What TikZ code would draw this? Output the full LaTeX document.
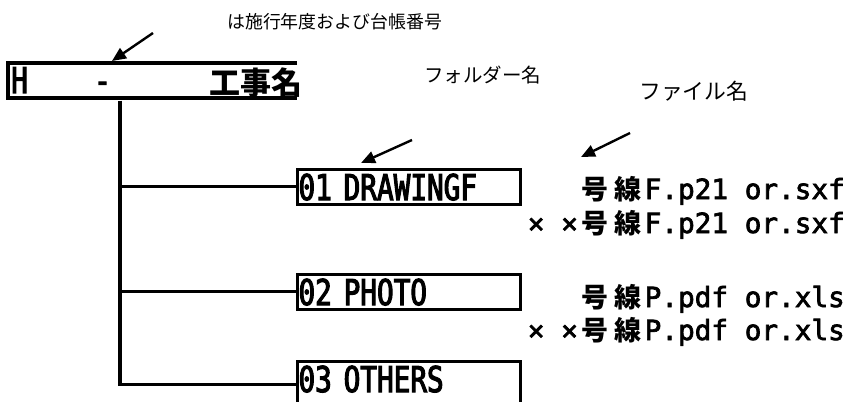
\documentclass[tikz,border=0pt]{standalone}
\usepackage{fontspec}
\usetikzlibrary{arrows.meta}
\newfontfamily\jp{Noto Sans CJK JP}
\newfontfamily\boxfont[FakeStretch=0.78, FakeBold=3]{DejaVu Sans Mono}
\newfontfamily\monofont[FakeBold=2.5]{DejaVu Sans Mono}
\newcommand{\kj}[1]{\makebox[33.4pt][c]{\jp\bfseries\fontsize{27}{27}\selectfont #1}}
\newcommand{\bxf}{\boxfont\fontsize{35.5}{35.5}\selectfont}
\begin{document}
\begin{tikzpicture}[x=1pt,y=-1pt,
  lbl/.style={inner sep=0pt},
  note/.style={inner sep=0pt, anchor=west},
  arr/.style={line width=2.4pt, -{Triangle[length=14pt,width=12pt]}},
  conn/.style={line width=3.2pt},
  folder/.style={draw, line width=3pt, inner xsep=1pt, inner ysep=0pt,
     text width=221pt, align=left, text height=31pt,
     anchor=base west, font=\bxf},
  fname/.style={inner sep=0pt, anchor=base east, font=\monofont\fontsize{27.7}{28}\selectfont}]
\useasboundingbox (0,0) rectangle (850,401);
% header
\draw[conn] (297,63) -- (8,63) -- (8,98) -- (297,98);
\node[lbl, anchor=base west, font=\bxf] (hH) at (11,93) {H};
\node[lbl, anchor=base west, font=\bxf] (hdash) at (94,93) {-};
\node[lbl, anchor=base west, font=\jp\bfseries\fontsize{31}{31}\selectfont] (hname) at (209,95) {工事名};
% notes and arrows
\node[note] (n1) at (227,22) {\resizebox{215pt}{!}{\jp は施行年度および台帳番号}};
\node[note] (n2) at (424,75) {\resizebox{117pt}{!}{\jp フォルダー名}};
\node[note] (n3) at (639,91) {\resizebox{109pt}{!}{\jp ファイル名}};
\coordinate (a1s) at (153,33); \coordinate (a1e) at (112,61);
\coordinate (a2s) at (412,140); \coordinate (a2e) at (361,163);
\coordinate (a3s) at (630,133); \coordinate (a3e) at (581,157);
\draw[arr] (a1s) -- (a1e);
\draw[arr] (a2s) -- (a2e);
\draw[arr] (a3s) -- (a3e);
% folders
\node[folder, text depth=4pt] (b1) at (296,200) {01 DRAWINGF};
\node[folder, text depth=4pt] (b2) at (296,305) {02 PHOTO};
\node[folder, text depth=16pt] (b3) at (296,392) {03 OTHERS};
% tree
\coordinate (htop) at (120,101);
\draw[conn] (htop) |- (b1.west);
\draw[conn] (htop) |- (b2.west);
\draw[conn] (htop) |- (b3.west);
% file names
\node[fname] (f1) at (845,199) {\kj{号}\kj{線}F.p21 or.sxf};
\node[fname] (f2) at (845,233) {× ×\kj{号}\kj{線}F.p21 or.sxf};
\node[fname] (f3) at (845,307) {\kj{号}\kj{線}P.pdf or.xls};
\node[fname] (f4) at (845,340) {× ×\kj{号}\kj{線}P.pdf or.xls};
\end{tikzpicture}
\end{document}
